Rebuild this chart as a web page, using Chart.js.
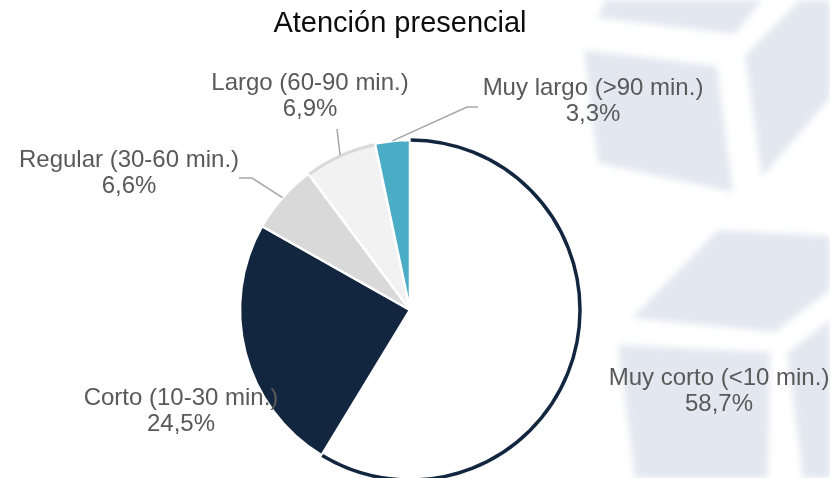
<!DOCTYPE html>
<html lang="es">
<head>
<meta charset="utf-8">
<title>Atención presencial</title>
<script src="https://cdn.jsdelivr.net/npm/chart.js@4.4.1/dist/chart.umd.min.js"></script>
<style>
  html, body { margin: 0; padding: 0; background: #ffffff; }
  #wrap { position: relative; width: 830px; height: 478px; }
</style>
</head>
<body>
<div id="wrap"><canvas id="pieChart"></canvas></div>
<script>
// Tiempo de espera - atención presencial
const chartTitle = 'Atención presencial';
const categories = ['Muy corto (<10 min.)', 'Corto (10-30 min.)', 'Regular (30-60 min.)', 'Largo (60-90 min.)', 'Muy largo (>90 min.)'];
const shares = [58.7, 24.5, 6.6, 6.9, 3.3];
const sliceColors = ['#ffffff', '#12263f', '#d9d9d9', '#f2f2f2', '#4bacc6'];

// where each label sits (centre of first line), relative to the pie centre
const labelOffsets = [[309, 68], [-229, 88], [-281, -150], [-100, -227], [183, -222]];
// leader line points, from the slice rim outwards, relative to the pie centre
const leaders = [null, null, [[-158, -132], [-171, -132]], [[-73, -181]], [[57, -203], [68, -203]]];

// faded cube shapes behind the chart
const cubeFaces = [
    [[605, 0], [762, 0], [735, 34], [598, 18]],
    [[584, 50], [717, 66], [733, 192], [598, 163]],
    [[745, 55], [800, 0], [830, 0], [830, 98], [762, 177]],
    [[718, 230], [830, 236], [830, 290], [775, 332], [632, 318]],
    [[618, 345], [770, 352], [768, 478], [635, 478]],
    [[787, 353], [830, 320], [830, 478], [803, 478]]
];

const FONT = '"Liberation Sans", Arial, sans-serif';

function formatShare(v) {
    return v.toFixed(1).replace('.', ',') + '%';
}

const pieDecor = {
    id: 'pieDecor',
    beforeDraw(chart) {
        const ctx = chart.ctx;
        ctx.save();
        ctx.fillStyle = '#e3e8f0';
        ctx.filter = 'blur(3px)';
        cubeFaces.forEach(face => {
            ctx.beginPath();
            face.forEach(([x, y], i) => i ? ctx.lineTo(x, y) : ctx.moveTo(x, y));
            ctx.closePath();
            ctx.fill();
        });
        ctx.restore();

        ctx.save();
        ctx.font = '29px ' + FONT;
        ctx.fillStyle = '#0d0d0d';
        ctx.textAlign = 'center';
        ctx.textBaseline = 'middle';
        ctx.fillText(chartTitle, 400, 24);
        ctx.restore();
    },
    afterDatasetsDraw(chart) {
        const ctx = chart.ctx;
        const arcs = chart.getDatasetMeta(0).data;

        arcs.forEach((arc, i) => {
            const { x, y, startAngle, endAngle, outerRadius } =
                arc.getProps(['x', 'y', 'startAngle', 'endAngle', 'outerRadius'], true);

            // rims
            if (i === 0 || i === 3) {
                ctx.save();
                ctx.beginPath();
                ctx.arc(x, y, i === 0 ? outerRadius : outerRadius - 1, startAngle + 0.004, endAngle - 0.004);
                ctx.strokeStyle = i === 0 ? '#12263f' : '#d9d9d9';
                ctx.lineWidth = i === 0 ? 3.5 : 3;
                ctx.stroke();
                ctx.restore();
            }

            // leader lines
            if (leaders[i]) {
                const mid = (startAngle + endAngle) / 2;
                ctx.save();
                ctx.beginPath();
                ctx.moveTo(x + Math.cos(mid) * outerRadius, y + Math.sin(mid) * outerRadius);
                leaders[i].forEach(([dx, dy]) => ctx.lineTo(x + dx, y + dy));
                ctx.strokeStyle = '#a6a6a6';
                ctx.lineWidth = 1.5;
                ctx.stroke();
                ctx.restore();
            }

            // labels
            const [lx, ly] = labelOffsets[i];
            ctx.save();
            ctx.font = '24px ' + FONT;
            ctx.fillStyle = '#595959';
            ctx.textAlign = 'center';
            ctx.textBaseline = 'middle';
            ctx.fillText(categories[i], x + lx, y + ly);
            ctx.fillText(formatShare(shares[i]), x + lx, y + ly + 26);
            ctx.restore();
        });
    }
};

new Chart(document.getElementById('pieChart'), {
    type: 'pie',
    data: {
        labels: categories,
        datasets: [{
            data: shares,
            backgroundColor: sliceColors,
            borderColor: '#ffffff',
            borderWidth: 2.5
        }]
    },
    options: {
        responsive: true,
        maintainAspectRatio: false,
        animation: false,
        radius: 170,
        layout: {
            padding: { top: 142, bottom: 0, left: 240, right: 250 }
        },
        plugins: {
            legend: { display: false },
            title: { display: false },
            tooltip: { enabled: false }
        }
    },
    plugins: [pieDecor]
});
</script>
</body>
</html>
